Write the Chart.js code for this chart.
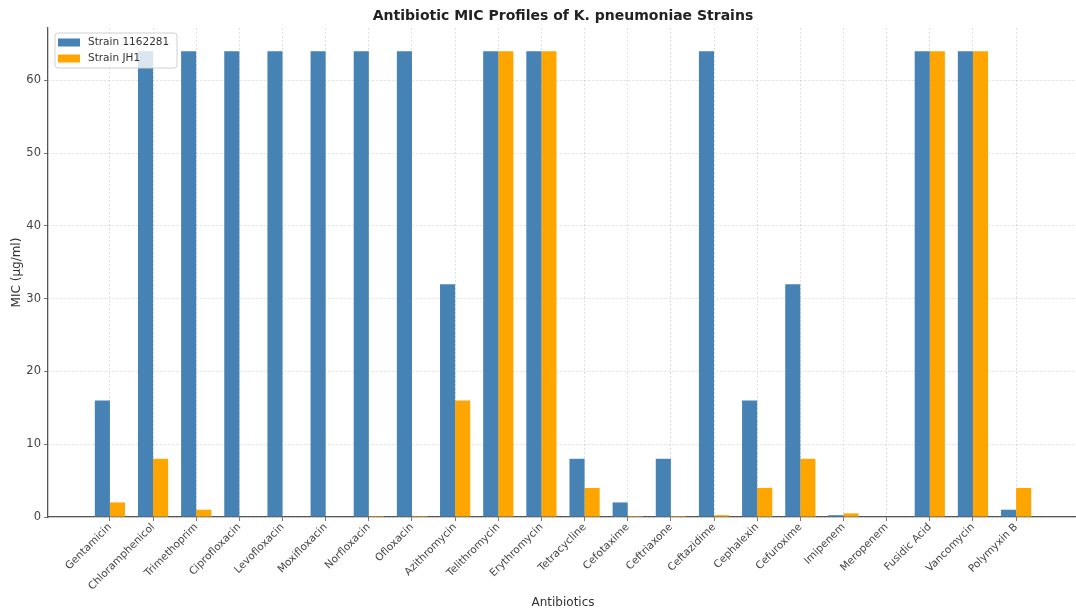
<!DOCTYPE html>
<html>
<head>
<meta charset="utf-8">
<script src="https://cdn.jsdelivr.net/npm/chart.js@4.4.1/dist/chart.umd.min.js"></script>
<style>
  html, body { margin: 0; padding: 0; background: #fff; overflow: hidden; }
  #micChart { display: block; }
</style>
</head>
<body>
<canvas id="micChart" width="1080" height="614"></canvas>
<script>
/* MIC por antibiótico - duas cepas de K. pneumoniae */

const categories = [
  'Gentamicin', 'Chloramphenicol', 'Trimethoprim', 'Ciprofloxacin', 'Levofloxacin',
  'Moxifloxacin', 'Norfloxacin', 'Ofloxacin', 'Azithromycin', 'Telithromycin',
  'Erythromycin', 'Tetracycline', 'Cefotaxime', 'Ceftriaxone', 'Ceftazidime',
  'Cephalexin', 'Cefuroxime', 'Imipenem', 'Meropenem', 'Fusidic Acid',
  'Vancomycin', 'Polymyxin B'
];
const strain1162281 = [16, 64, 64, 64, 64, 64, 64, 64, 32, 64, 64, 8, 2, 8, 64, 16, 32, 0.25, 0, 64, 64, 1];
const strainJH1 = [2, 8, 1, 0, 0, 0, 0.125, 0.125, 16, 64, 64, 4, 0.125, 0.125, 0.25, 4, 8, 0.5, 0, 64, 64, 4];
const yTicks = [0, 10, 20, 30, 40, 50, 60];

const FONT = "'DejaVu Sans', sans-serif";

function toPoints(values) {
  return values.map((v, i) => ({ x: i, y: v }));
}

// título centrado na área do gráfico (como no matplotlib)
const titlePlugin = {
  id: 'axesTitle',
  afterDraw(chart) {
    const { ctx, chartArea } = chart;
    ctx.save();
    ctx.font = `bold 14px ${FONT}`;
    ctx.fillStyle = '#222';
    ctx.textAlign = 'center';
    ctx.textBaseline = 'middle';
    ctx.fillText('Antibiotic MIC Profiles of K. pneumoniae Strains', (chartArea.left + chartArea.right) / 2, 16);
    ctx.restore();
  }
};

// legenda dentro do eixo, canto superior esquerdo
const insideLegend = {
  id: 'insideLegend',
  afterDatasetsDraw(chart) {
    const { ctx, chartArea } = chart;
    const x = chartArea.left + 7;
    const y = chartArea.top + 5;
    const w = 122, h = 35;
    ctx.save();
    ctx.beginPath();
    ctx.roundRect(x, y, w, h, 3);
    ctx.fillStyle = 'rgba(255,255,255,0.8)';
    ctx.fill();
    ctx.strokeStyle = '#d0d0d0';
    ctx.lineWidth = 1;
    ctx.stroke();
    ctx.font = `10.5px ${FONT}`;
    ctx.textBaseline = 'middle';
    chart.data.datasets.forEach((ds, i) => {
      const cy = y + 9.5 + i * 16;
      ctx.fillStyle = ds.backgroundColor;
      ctx.fillRect(x + 3, cy - 4, 22, 8);
      ctx.fillStyle = '#333';
      ctx.fillText(ds.label, x + 33, cy);
    });
    ctx.restore();
  }
};

const gridStyle = {
  color: 'rgba(0,0,0,0.16)',
  tickColor: '#555',
  tickLength: 4,
  lineWidth: 0.8,
  offset: false
};

new Chart(document.getElementById('micChart'), {
  type: 'bar',
  data: {
    datasets: [
      {
        label: 'Strain 1162281',
        data: toPoints(strain1162281),
        backgroundColor: '#4682B4',
        categoryPercentage: 0.7,
        barPercentage: 1.0,
      },
      {
        label: 'Strain JH1',
        data: toPoints(strainJH1),
        backgroundColor: '#FFA500',
        categoryPercentage: 0.7,
        barPercentage: 1.0,
      },
    ],
  },
  options: {
    responsive: false,
    animation: false,
    layout: { padding: { top: 28, right: 2, left: 0, bottom: 0 } },
    plugins: {
      legend: { display: false },
      tooltip: { enabled: false },
      title: { display: false },
    },
    scales: {
      x: {
        type: 'linear',
        offset: false,
        min: -1.435,
        max: 22.435,
        afterBuildTicks: (axis) => { axis.ticks = categories.map((_, i) => ({ value: i })); },
        afterFit: (axis) => { axis.height = 97; },
        ticks: {
          autoSkip: false,
          minRotation: 45,
          maxRotation: 45,
          padding: 0,
          color: '#444',
          font: { family: FONT, size: 10.5 },
          callback: (v) => categories[v] || '',
        },
        grid: gridStyle,
        border: { display: true, color: '#555', width: 1.3, dash: [2, 2] },
        title: {
          display: true,
          text: 'Antibiotics',
          color: '#333',
          font: { family: FONT, size: 12 },
          padding: { top: 0, bottom: 4 },
        },
      },
      y: {
        min: 0,
        max: 67.2,
        afterBuildTicks: (axis) => { axis.ticks = yTicks.map((v) => ({ value: v })); },
        afterFit: (axis) => { axis.width = 48; },
        ticks: {
          padding: 3,
          color: '#444',
          font: { family: FONT, size: 11.5 },
        },
        grid: gridStyle,
        border: { display: true, color: '#555', width: 1.3, dash: [2, 2] },
        title: {
          display: true,
          text: 'MIC (µg/ml)',
          color: '#333',
          font: { family: FONT, size: 12 },
          padding: { top: 10, bottom: 0 },
        },
      },
    },
  },
  plugins: [titlePlugin, insideLegend],
});
</script>
</body>
</html>
